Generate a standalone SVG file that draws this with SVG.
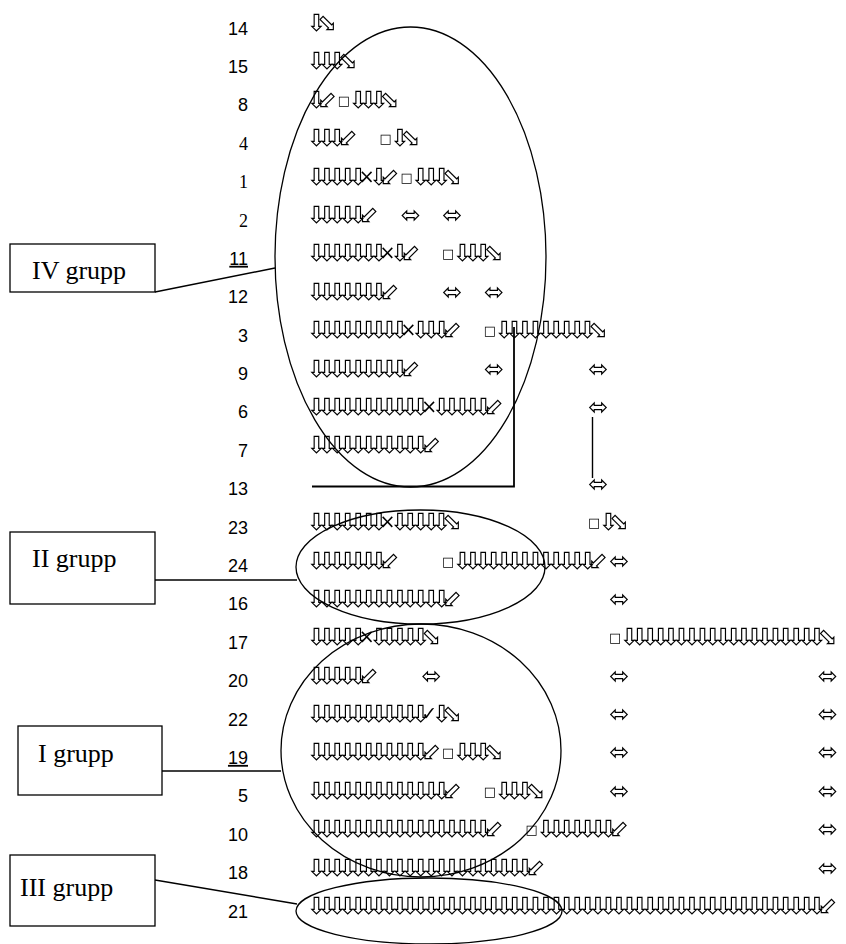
<svg xmlns="http://www.w3.org/2000/svg" width="846" height="944" viewBox="0 0 846 944">
<defs>
<filter id="gray" x="-5%" y="-5%" width="110%" height="110%"><feColorMatrix type="saturate" values="0"/></filter>
</defs>
<style>
.bg{fill:#fff}
.n{font-family:"Liberation Sans",Arial,sans-serif;font-size:18px;text-anchor:end;fill:#000}
.ns{font-family:"Liberation Serif","Times New Roman",serif;font-size:18px;text-anchor:end;fill:#000}
.u{text-decoration:underline}
.g{font-family:"DejaVu Sans",sans-serif;font-size:24px;fill:#000;letter-spacing:-9.68px}
.sq{font-size:13px;baseline-shift:3px}
.x{font-size:19px;baseline-shift:2px}
.bx{fill:#fff;stroke:#000;stroke-width:1.3}
.lbl{font-family:"Liberation Serif","Times New Roman",serif;font-size:26px;fill:#000}
.el{fill:none;stroke:#000;stroke-width:1.3}
.ln{fill:none;stroke:#000;stroke-width:1.4}
.lb{fill:none;stroke:#000;stroke-width:1.8}
</style>
<rect class="bg" x="0" y="0" width="846" height="944"/>

<g id="ellipses">
<ellipse class="el" cx="410.5" cy="257" rx="135.5" ry="230"/>
<ellipse class="el" cx="420.5" cy="567" rx="124.5" ry="57"/>
<ellipse class="el" cx="421" cy="750.5" rx="140" ry="126.5"/>
<ellipse class="el" cx="429" cy="911" rx="133" ry="33"/>
</g>

<g id="connectors">
<line class="ln" x1="155" y1="292" x2="275" y2="268"/>
<line class="ln" x1="155" y1="580" x2="297" y2="580"/>
<line class="ln" x1="162" y1="771" x2="281" y2="771"/>
<line class="ln" x1="155" y1="880" x2="297" y2="904"/>
<polyline class="lb" points="312,486.5 514,486.5 514,327"/>
<line class="ln" x1="592.5" y1="417" x2="592.5" y2="478"/>
</g>

<g id="box-IV"><rect class="bx" x="10" y="244" width="145" height="48"/><text class="lbl" x="32" y="279">IV grupp</text></g>
<g id="box-II"><rect class="bx" x="10" y="532" width="145" height="72"/><text class="lbl" x="32" y="567">II grupp</text></g>
<g id="box-I"><rect class="bx" x="18" y="726" width="144" height="69"/><text class="lbl" x="38" y="762">I grupp</text></g>
<g id="box-III"><rect class="bx" x="10" y="855" width="145" height="71"/><text class="lbl" x="20" y="896">III grupp</text></g>

<g id="numbers">
<text class="n" x="248" y="34.5">14</text>
<text class="n" x="248" y="72.9">15</text>
<text class="n" x="248" y="111.3">8</text>
<text class="ns" x="248" y="149.7">4</text>
<text class="ns" x="248" y="188.1">1</text>
<text class="ns" x="248" y="226.5">2</text>
<text class="n u" x="248" y="264.8">11</text>
<text class="n" x="248" y="303.2">12</text>
<text class="n" x="248" y="341.6">3</text>
<text class="n" x="248" y="380">9</text>
<text class="n" x="248" y="418.4">6</text>
<text class="n" x="248" y="456.8">7</text>
<text class="n" x="248" y="495.2">13</text>
<text class="n" x="248" y="533.6">23</text>
<text class="n" x="248" y="572">24</text>
<text class="n" x="248" y="610.4">16</text>
<text class="n" x="248" y="648.7">17</text>
<text class="n" x="248" y="687.1">20</text>
<text class="n" x="248" y="725.5">22</text>
<text class="n u" x="248" y="763.9">19</text>
<text class="n" x="248" y="802.3">5</text>
<text class="n" x="248" y="840.7">10</text>
<text class="n" x="248" y="879.1">18</text>
<text class="n" x="248" y="917.5">21</text>
</g>

<g id="rows" transform="translate(-2.5,1)" filter="url(#gray)">
<text id="r14" class="g" y="30"><tspan x="309">⇩</tspan><tspan x="319.4">⬂</tspan></text>
<text id="r15" class="g" y="68.4"><tspan x="309">⇩⇩⇩</tspan><tspan x="340.3">⬂</tspan></text>
<text id="r8" class="g" y="106.8"><tspan x="309">⇩</tspan><tspan x="319.4">⬃</tspan><tspan class="sq" x="340.3">□</tspan><tspan x="350.7">⇩⇩⇩</tspan><tspan x="382">⬂</tspan></text>
<text id="r4" class="g" y="145.2"><tspan x="309">⇩⇩⇩</tspan><tspan x="340.3">⬃</tspan><tspan class="sq" x="382">□</tspan><tspan x="392.4">⇩</tspan><tspan x="402.9">⬂</tspan></text>
<text id="r1" class="g" y="183.6"><tspan x="309">⇩⇩⇩⇩⇩</tspan><tspan class="x" x="361.2">×</tspan><tspan x="371.6">⇩</tspan><tspan x="382">⬃</tspan><tspan class="sq" x="402.9">□</tspan><tspan x="413.3">⇩⇩⇩</tspan><tspan x="444.6">⬂</tspan></text>
<text id="r2" class="g" y="222"><tspan x="309">⇩⇩⇩⇩⇩</tspan><tspan x="361.2">⬃</tspan><tspan x="402.9">⬄</tspan><tspan x="444.6">⬄</tspan></text>
<text id="r11" class="g" y="260.3"><tspan x="309">⇩⇩⇩⇩⇩⇩⇩</tspan><tspan class="x" x="382">×</tspan><tspan x="392.4">⇩</tspan><tspan x="402.9">⬃</tspan><tspan class="sq" x="444.6">□</tspan><tspan x="455">⇩⇩⇩</tspan><tspan x="486.3">⬂</tspan></text>
<text id="r12" class="g" y="298.7"><tspan x="309">⇩⇩⇩⇩⇩⇩⇩</tspan><tspan x="382">⬃</tspan><tspan x="444.6">⬄</tspan><tspan x="486.3">⬄</tspan></text>
<text id="r3" class="g" y="337.1"><tspan x="309">⇩⇩⇩⇩⇩⇩⇩⇩⇩</tspan><tspan class="x" x="402.9">×</tspan><tspan x="413.3">⇩⇩⇩</tspan><tspan x="444.6">⬃</tspan><tspan class="sq" x="486.3">□</tspan><tspan x="496.7">⇩⇩⇩⇩⇩⇩⇩⇩⇩</tspan><tspan x="590.6">⬂</tspan></text>
<text id="r9" class="g" y="375.5"><tspan x="309">⇩⇩⇩⇩⇩⇩⇩⇩⇩</tspan><tspan x="402.9">⬃</tspan><tspan x="486.3">⬄</tspan><tspan x="590.6">⬄</tspan></text>
<text id="r6" class="g" y="413.9"><tspan x="309">⇩⇩⇩⇩⇩⇩⇩⇩⇩⇩⇩</tspan><tspan class="x" x="423.7">×</tspan><tspan x="434.2">⇩⇩⇩⇩⇩</tspan><tspan x="486.3">⬃</tspan><tspan x="590.6">⬄</tspan></text>
<text id="r7" class="g" y="452.3"><tspan x="309">⇩⇩⇩⇩⇩⇩⇩⇩⇩⇩⇩</tspan><tspan x="423.7">⬃</tspan></text>
<text id="r13" class="g" y="490.7"><tspan x="590.6">⬄</tspan></text>
<text id="r23" class="g" y="529.1"><tspan x="309">⇩⇩⇩⇩⇩⇩⇩</tspan><tspan class="x" x="382">×</tspan><tspan x="392.4">⇩⇩⇩⇩⇩</tspan><tspan x="444.6">⬂</tspan><tspan class="sq" x="590.6">□</tspan><tspan x="601">⇩</tspan><tspan x="611.5">⬂</tspan></text>
<text id="r24" class="g" y="567.5"><tspan x="309">⇩⇩⇩⇩⇩⇩⇩</tspan><tspan x="382">⬃</tspan><tspan class="sq" x="444.6">□</tspan><tspan x="455">⇩⇩⇩⇩⇩⇩⇩⇩⇩⇩⇩⇩⇩</tspan><tspan x="590.6">⬃</tspan><tspan x="611.5">⬄</tspan></text>
<text id="r16" class="g" y="605.9"><tspan x="309">⇩⇩⇩⇩⇩⇩⇩⇩⇩⇩⇩⇩⇩</tspan><tspan x="444.6">⬃</tspan><tspan x="611.5">⬄</tspan></text>
<text id="r17" class="g" y="644.2"><tspan x="309">⇩⇩⇩⇩⇩</tspan><tspan class="x" x="361.2">×</tspan><tspan x="371.6">⇩⇩⇩⇩⇩</tspan><tspan x="423.7">⬂</tspan><tspan class="sq" x="611.5">□</tspan><tspan x="621.9">⇩⇩⇩⇩⇩⇩⇩⇩⇩⇩</tspan><tspan x="726.2">⇩⇩⇩⇩⇩⇩⇩⇩⇩</tspan><tspan x="820.1">⬂</tspan></text>
<text id="r20" class="g" y="682.6"><tspan x="309">⇩⇩⇩⇩⇩</tspan><tspan x="361.2">⬃</tspan><tspan x="423.7">⬄</tspan><tspan x="611.5">⬄</tspan><tspan x="820.1">⬄</tspan></text>
<text id="r22" class="g" y="721"><tspan x="309">⇩⇩⇩⇩⇩⇩⇩⇩⇩⇩⇩</tspan><tspan class="x" x="423.7">✓</tspan><tspan x="434.2">⇩</tspan><tspan x="444.6">⬂</tspan><tspan x="611.5">⬄</tspan><tspan x="820.1">⬄</tspan></text>
<text id="r19" class="g" y="759.4"><tspan x="309">⇩⇩⇩⇩⇩⇩⇩⇩⇩⇩⇩</tspan><tspan x="423.7">⬃</tspan><tspan class="sq" x="444.6">□</tspan><tspan x="455">⇩⇩⇩</tspan><tspan x="486.3">⬂</tspan><tspan x="611.5">⬄</tspan><tspan x="820.1">⬄</tspan></text>
<text id="r5" class="g" y="797.8"><tspan x="309">⇩⇩⇩⇩⇩⇩⇩⇩⇩⇩⇩⇩⇩</tspan><tspan x="444.6">⬃</tspan><tspan class="sq" x="486.3">□</tspan><tspan x="496.7">⇩⇩⇩</tspan><tspan x="528">⬂</tspan><tspan x="611.5">⬄</tspan><tspan x="820.1">⬄</tspan></text>
<text id="r10" class="g" y="836.2"><tspan x="309">⇩⇩⇩⇩⇩⇩⇩⇩⇩⇩</tspan><tspan x="413.3">⇩⇩⇩⇩⇩⇩⇩</tspan><tspan x="486.3">⬃</tspan><tspan class="sq" x="528">□</tspan><tspan x="538.5">⇩⇩⇩⇩⇩⇩⇩</tspan><tspan x="611.5">⬃</tspan><tspan x="820.1">⬄</tspan></text>
<text id="r18" class="g" y="874.6"><tspan x="309">⇩⇩⇩⇩⇩⇩⇩⇩⇩⇩</tspan><tspan x="413.3">⇩⇩⇩⇩⇩⇩⇩⇩⇩⇩</tspan><tspan x="517.6">⇩</tspan><tspan x="528">⬃</tspan><tspan x="820.1">⬄</tspan></text>
<text id="r21" class="g" y="913"><tspan x="309">⇩⇩⇩⇩⇩⇩⇩⇩⇩⇩</tspan><tspan x="413.3">⇩⇩⇩⇩⇩⇩⇩⇩⇩⇩</tspan><tspan x="517.6">⇩⇩⇩⇩⇩⇩⇩⇩⇩⇩</tspan><tspan x="621.9">⇩⇩⇩⇩⇩⇩⇩⇩⇩⇩</tspan><tspan x="726.2">⇩⇩⇩⇩⇩⇩⇩⇩⇩</tspan><tspan x="820.1">⬃</tspan></text>
</g>
</svg>
